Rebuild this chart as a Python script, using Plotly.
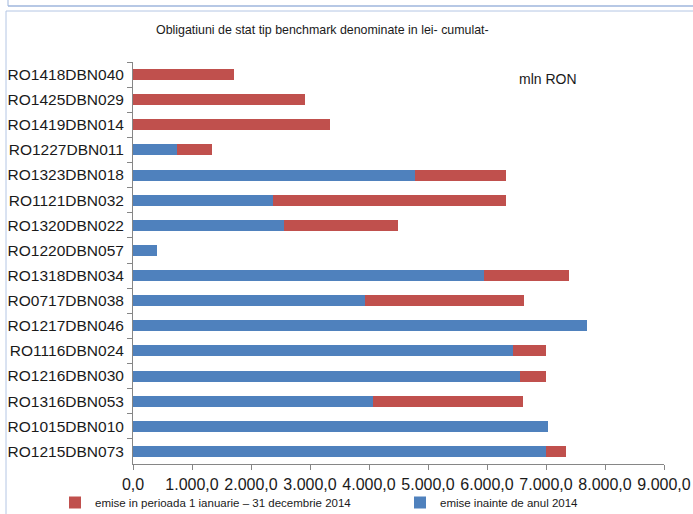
import plotly.graph_objects as go

categories = ["RO1418DBN040", "RO1425DBN029", "RO1419DBN014", "RO1227DBN011",
              "RO1323DBN018", "RO1121DBN032", "RO1320DBN022", "RO1220DBN057",
              "RO1318DBN034", "RO0717DBN038", "RO1217DBN046", "RO1116DBN024",
              "RO1216DBN030", "RO1316DBN053", "RO1015DBN010", "RO1215DBN073"]
before_2014 = [0, 0, 0, 742, 4788, 2381, 2551, 415,
               5941, 3924, 7703, 6437, 6551, 4064, 7042, 7000]
in_2014 = [1720, 2907, 3331, 605, 1526, 3933, 1932, 0,
           1457, 2695, 0, 555, 457, 2538, 0, 347]
x_ticks = [0, 1000, 2000, 3000, 4000, 5000, 6000, 7000, 8000, 9000]
name_before = "emise inainte de anul 2014"
name_2014 = "emise in perioada 1 ianuarie \u2013 31 decembrie 2014"
col_before = "#4F81BD"
col_2014 = "#C0504D"

W, H = 693, 514
L, R, T, B = 133, 29, 62, 50
PW, PH = W - L - R, H - T - B

def px(x):
    return (x - L) / PW

def py(y):
    return (H - B - y) / PH

fig = go.Figure()
fig.add_trace(go.Bar(y=categories, x=before_2014, orientation="h",
                     name=name_before, legend="legend2", showlegend=True,
                     marker=dict(color=col_before, line=dict(width=0))))
fig.add_trace(go.Bar(y=categories, x=in_2014, orientation="h",
                     name=name_2014, legend="legend", showlegend=True,
                     marker=dict(color=col_2014, line=dict(width=0))))

font_family = "Liberation Sans, Arial, sans-serif"
line_col = "#b4c6e4"
shapes = [
    dict(type="line", xref="paper", yref="paper", x0=px(8), y0=py(0), x1=px(8), y1=py(6),
         line=dict(color="#9fb6dc", width=1)),
    dict(type="line", xref="paper", yref="paper", x0=px(8), y0=py(6), x1=px(693), y1=py(6),
         line=dict(color="#9fb6dc", width=1.5)),
    dict(type="line", xref="paper", yref="paper", x0=px(6), y0=py(11), x1=px(693), y1=py(11),
         line=dict(color=line_col, width=1)),
    dict(type="line", xref="paper", yref="paper", x0=px(6), y0=py(11), x1=px(6), y1=py(514),
         line=dict(color=line_col, width=1)),
]

legend_common = dict(orientation="h", xanchor="left", yanchor="top",
                     xref="container", yref="container", visible=True,
                     font=dict(size=11.5, family=font_family, color="#1a1a1a"),
                     bgcolor="rgba(0,0,0,0)", borderwidth=0)

fig.update_layout(
    width=W, height=H,
    showlegend=True,
    margin=dict(l=L, r=R, t=T, b=B, autoexpand=False),
    barmode="stack",
    bargap=0.56,
    separators=",.",
    paper_bgcolor="white",
    plot_bgcolor="white",
    font=dict(family=font_family, color="#1a1a1a"),
    shapes=shapes,
    xaxis=dict(range=[0, 9000], tickvals=x_ticks, tickformat=",.1f",
               showgrid=False, zeroline=False, showline=True, linecolor="#868686",
               linewidth=1, ticks="outside", ticklen=5, tickcolor="#868686",
               ticklabelstandoff=1,
               tickfont=dict(size=16, family=font_family, color="#1a1a1a")),
    yaxis=dict(autorange="reversed", showgrid=False, zeroline=False, showline=True,
               linecolor="#868686", linewidth=1, ticks="outside", ticklen=5,
               tickcolor="#868686", tickson="boundaries", ticklabelstandoff=5,
               tickfont=dict(size=15.5, family=font_family, color="#1a1a1a")),
    legend=dict(x=55 / W, y=1 - 488 / H, **legend_common),
    legend2=dict(x=400 / W, y=1 - 488 / H, **legend_common),
    annotations=[
        dict(text="Obligatiuni de stat tip benchmark denominate in lei- cumulat-",
             xref="paper", yref="paper", x=px(322), y=py(30),
             xanchor="center", yanchor="middle", showarrow=False,
             font=dict(size=12.4, family=font_family, color="#1a1a1a")),
        dict(text="mln RON", xref="paper", yref="paper", x=px(548), y=py(79),
             xanchor="center", yanchor="middle", showarrow=False,
             font=dict(size=14, family=font_family, color="#1a1a1a")),
    ],
)

fig.write_html("out.html", config={"displayModeBar": False},
               post_script="document.body.style.margin='0';")
